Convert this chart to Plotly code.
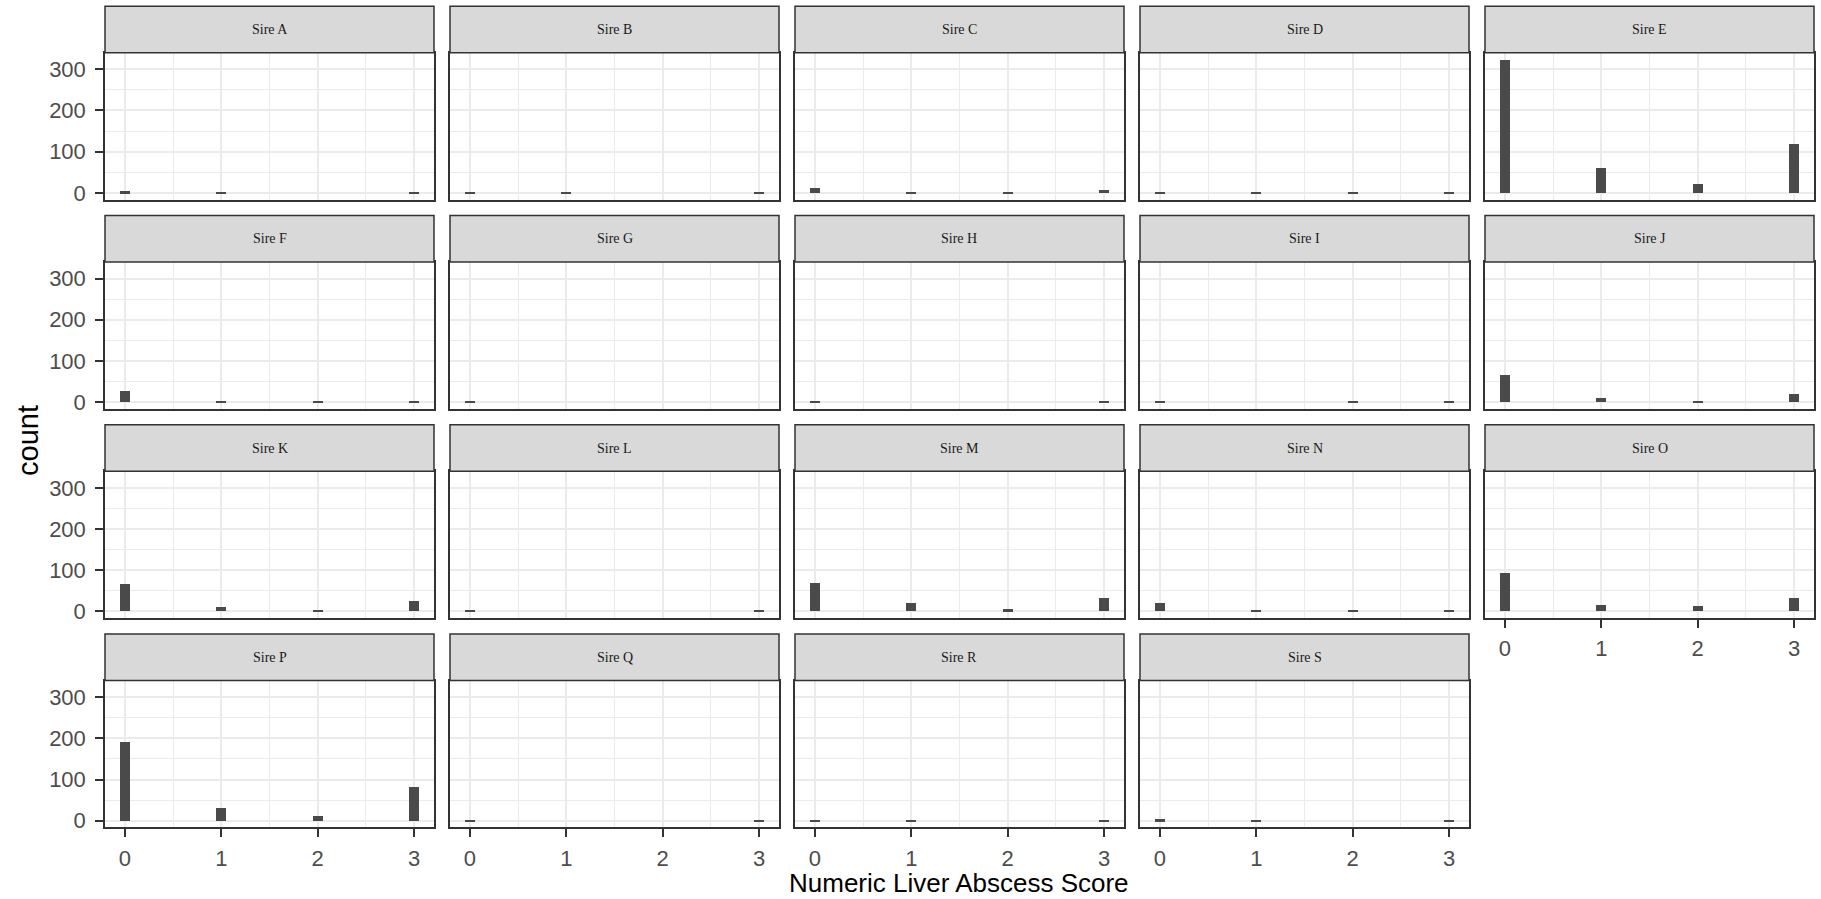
import plotly.graph_objects as go

# ---- data ----
sires = ["Sire A", "Sire B", "Sire C", "Sire D", "Sire E",
         "Sire F", "Sire G", "Sire H", "Sire I", "Sire J",
         "Sire K", "Sire L", "Sire M", "Sire N", "Sire O",
         "Sire P", "Sire Q", "Sire R", "Sire S"]
scores = [0, 1, 2, 3]

count_A = [4, 1, 0, 1]
count_B = [2, 1, 0, 2]
count_C = [13, 3, 1, 8]
count_D = [3, 1, 1, 3]
count_E = [324, 60, 21, 120]
count_F = [26, 1, 1, 3]
count_G = [1, 0, 0, 0]
count_H = [1, 0, 0, 1]
count_I = [3, 0, 1, 1]
count_J = [65, 9, 1, 19]
count_K = [67, 9, 1, 24]
count_L = [1, 0, 0, 1]
count_M = [68, 20, 4, 32]
count_N = [20, 1, 1, 3]
count_O = [92, 15, 12, 32]
count_P = [192, 32, 12, 83]
count_Q = [1, 0, 0, 1]
count_R = [2, 1, 0, 1]
count_S = [4, 1, 0, 1]

all_counts = [count_A, count_B, count_C, count_D, count_E, count_F, count_G,
              count_H, count_I, count_J, count_K, count_L, count_M, count_N,
              count_O, count_P, count_Q, count_R, count_S]

x_ticks = [0, 1, 2, 3]
y_ticks = [0, 100, 200, 300]

# ---- layout geometry ----
W, H = 1821, 899
NCOL = 5
col_left0, col_w, col_pitch = 105, 329, 345
row_top0, row_h, row_pitch, strip_h = 52.7, 146.8, 209.3, 46.5

binw = 3 / 29
x_range = [-0.0517 - 0.155, 3.0517 + 0.155]
y_range = [-16.2, 340.2]

def px(x):
    return x / W

def py(y):
    return 1 - y / H

fig = go.Figure()
shapes = []
annotations = []
layout_axes = {}

tick_font = dict(family="Liberation Sans, Arial, sans-serif", size=22, color="#4D4D4D")

for i, (name, cnt) in enumerate(zip(sires, all_counts)):
    r, c = divmod(i, NCOL)
    left = col_left0 + c * col_pitch
    right = left + col_w
    top = row_top0 + r * row_pitch
    bottom = top + row_h
    sfx = "" if i == 0 else str(i + 1)

    fig.add_trace(go.Bar(
        x=scores, y=cnt, width=binw,
        marker=dict(color="#4A4A4A", line=dict(width=0)),
        xaxis="x" + sfx, yaxis="y" + sfx,
        showlegend=False, hoverinfo="x+y",
    ))

    show_x = (r == 3) or (r == 2 and c == 4)
    show_y = (c == 0)

    layout_axes["xaxis" + sfx] = dict(
        domain=[px(left), px(right)], anchor="y" + sfx,
        range=x_range, tickvals=x_ticks, showticklabels=show_x,
        ticks="outside" if show_x else "", ticklen=8, tickwidth=2,
        tickcolor="#333333", tickfont=tick_font, ticklabelstandoff=2,
        showgrid=True, gridcolor="#EBEBEB", gridwidth=2,
        minor=dict(tickvals=[0.5, 1.5, 2.5], showgrid=True, gridcolor="#EBEBEB", gridwidth=1, ticks=""),
        zeroline=False, showline=True, linecolor="#333333", linewidth=1.5, mirror=True,
        fixedrange=True, automargin=False,
    )
    layout_axes["yaxis" + sfx] = dict(
        domain=[py(bottom), py(top)], anchor="x" + sfx,
        range=y_range, tickvals=y_ticks, showticklabels=show_y,
        ticks="outside" if show_y else "", ticklen=8, tickwidth=2,
        tickcolor="#333333", tickfont=tick_font, ticklabelstandoff=5,
        showgrid=True, gridcolor="#EBEBEB", gridwidth=2,
        minor=dict(tickvals=[50, 150, 250], showgrid=True, gridcolor="#EBEBEB", gridwidth=1, ticks=""),
        zeroline=False, showline=True, linecolor="#333333", linewidth=1.5, mirror=True,
        fixedrange=True, automargin=False,
    )

    # strip
    shapes.append(dict(
        type="rect", xref="paper", yref="paper",
        x0=px(left), x1=px(right), y0=py(top), y1=py(top - strip_h),
        fillcolor="#D9D9D9", line=dict(color="#333333", width=1.5), layer="above",
    ))
    annotations.append(dict(
        text=name, xref="paper", yref="paper",
        x=px((left + right) / 2), y=py(top - strip_h / 2),
        xanchor="center", yanchor="middle", showarrow=False,
        font=dict(family="Liberation Serif, Times New Roman, serif", size=14, color="#1A1A1A"),
    ))

# axis titles
annotations.append(dict(
    text="Numeric Liver Abscess Score", xref="paper", yref="paper",
    x=px(959.5), y=0, xanchor="center", yanchor="bottom", showarrow=False,
    borderpad=0,
    font=dict(family="Liberation Sans, Arial, sans-serif", size=26, color="#000000"),
))
annotations.append(dict(
    text="count", xref="paper", yref="paper", textangle=-90,
    x=px(28), y=py(441), xanchor="center", yanchor="middle", showarrow=False,
    font=dict(family="Liberation Sans, Arial, sans-serif", size=29, color="#000000"),
))

fig.update_layout(
    width=W, height=H,
    margin=dict(l=0, r=0, t=0, b=0),
    paper_bgcolor="white", plot_bgcolor="white",
    bargap=0,
    shapes=shapes, annotations=annotations,
    **layout_axes,
)

fig.write_html(
    "out.html",
    config={"displayModeBar": False},
    post_script="document.body.style.margin='0px';document.body.style.padding='0px';",
)
